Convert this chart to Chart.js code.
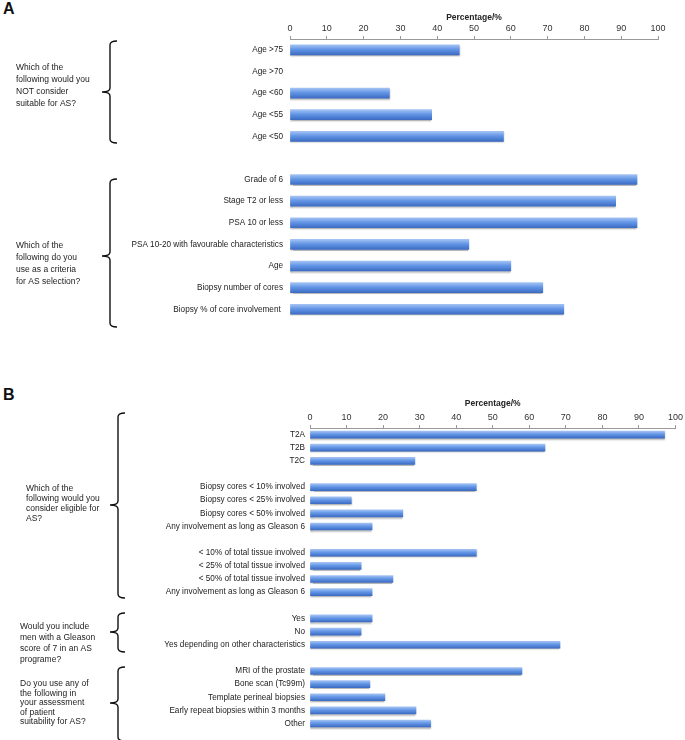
<!DOCTYPE html>
<html>
<head>
<meta charset="utf-8">
<script src="https://cdn.jsdelivr.net/npm/chart.js@4.4.1/dist/chart.umd.min.js"></script>
<style>
body { margin: 0; background: #fff; width: 685px; height: 740px; position: relative; overflow: hidden; }
.panel { position: absolute; left: 0; width: 685px; }
#wrapA { top: 0; height: 332px; }
#wrapB { top: 385px; height: 355px; }
.letter { position: absolute; left: 3px; font: bold 16px 'Liberation Sans', Arial, sans-serif; color: #111; }
</style>
</head>
<body>
<div class="letter" style="top:0px">A</div>
<div class="letter" style="top:386px">B</div>
<div id="wrapA" class="panel"><canvas id="chartA"></canvas></div>
<div id="wrapB" class="panel"><canvas id="chartB"></canvas></div>
<script>
// panel A
const notSuitableLabels = ['Age >75', 'Age >70', 'Age <60', 'Age <55', 'Age <50'];
const notSuitableValues = [46, 0, 27, 38.5, 58];
const criteriaLabels = ['Grade of 6', 'Stage T2 or less', 'PSA 10 or less', 'PSA 10-20 with favourable characteristics',
  'Age', 'Biopsy number of cores', 'Biopsy % of core involvement '];
const criteriaValues = [94.3, 88.5, 94.3, 48.6, 60, 68.7, 74.4];

// panel B
const stageLabels = ['T2A', 'T2B', 'T2C'];
const stageValues = [97, 64.3, 28.7];
const coresLabels = ['Biopsy cores < 10% involved', 'Biopsy cores < 25% involved', 'Biopsy cores < 50% involved', 'Any involvement as long as Gleason 6'];
const coresValues = [45.5, 11.3, 25.4, 17];
const tissueLabels = ['< 10% of total tissue involved', '< 25% of total tissue involved', '< 50% of total tissue involved', 'Any involvement as long as Gleason 6'];
const tissueValues = [45.5, 14, 22.7, 17];
const gleasonLabels = ['Yes', 'No', 'Yes depending on other characteristics'];
const gleasonValues = [17, 14, 68.4];
const assessLabels = ['MRI of the prostate', 'Bone scan (Tc99m)', 'Template perineal biopsies', 'Early repeat biopsies within 3 months', 'Other'];
const assessValues = [58, 16.4, 20.5, 29, 33];

const xTicks = [0, 10, 20, 30, 40, 50, 60, 70, 80, 90, 100];

const questionsA = [
  ['Which of the', 'following would you', 'NOT consider', 'suitable for AS?'],
  ['Which of the', 'following do you', 'use as a criteria', 'for AS selection?']
];
const questionsB = [
  ['Which of the', 'following would you', 'consider eligible for', 'AS?'],
  ['Would you include', 'men with a Gleason', 'score of 7 in an AS', 'programe?'],
  ['Do you use any of', 'the following in', 'your assessment', 'of patient', 'suitability for AS?']
];

// join groups with an empty slot between them
function joinGroups(groups, blank) {
  let out = [];
  groups.forEach((g, i) => {
    if (i > 0) out.push(blank);
    out = out.concat(g);
  });
  return out;
}

const labelsA = joinGroups([notSuitableLabels, criteriaLabels], '');
const valuesA = joinGroups([notSuitableValues, criteriaValues], null);
const labelsB = joinGroups([stageLabels, coresLabels, tissueLabels, gleasonLabels, assessLabels], '');
const valuesB = joinGroups([stageValues, coresValues, tissueValues, gleasonValues, assessValues], null);

const tickFont = { family: "'Liberation Sans', Arial, sans-serif", size: 8.2 };

// shaded bars like the excel original
const barShade = {
  id: 'barShade',
  beforeDatasetsDraw(chart) {
    const ctx = chart.ctx;
    chart.getDatasetMeta(0).data.forEach(bar => {
      if (Math.abs(bar.x - bar.base) < 0.5) {
        bar.options.backgroundColor = 'rgba(0,0,0,0)';   // nothing to show for 0%
        return;
      }
      const h = bar.height;
      const g = ctx.createLinearGradient(0, bar.y - h / 2, 0, bar.y + h / 2);
      g.addColorStop(0, '#a3c2f4');
      g.addColorStop(0.45, '#6396e6');
      g.addColorStop(1, '#3c6cc4');
      bar.options.backgroundColor = g;
    });
    ctx.save();
    ctx.shadowColor = 'rgba(0,0,0,0.28)';
    ctx.shadowOffsetY = 1.5;
    ctx.shadowBlur = 1.5;
  },
  afterDatasetsDraw(chart) {
    chart.ctx.restore();
  }
};

function drawBrace(ctx, x, top, bottom, tip) {
  ctx.beginPath();
  ctx.moveTo(x + 7, top);
  ctx.quadraticCurveTo(x, top, x, top + 4);
  ctx.lineTo(x, tip - 4);
  ctx.quadraticCurveTo(x, tip, x - 8, tip);
  ctx.quadraticCurveTo(x, tip, x, tip + 4);
  ctx.lineTo(x, bottom - 4);
  ctx.quadraticCurveTo(x, bottom, x + 7, bottom);
  ctx.stroke();
}

function questionPlugin(items) {
  return {
    id: 'questions',
    afterDraw(chart) {
      const ctx = chart.ctx;
      ctx.save();
      ctx.strokeStyle = '#111';
      ctx.lineWidth = 1.4;
      ctx.fillStyle = '#222';
      ctx.font = "8.5px 'Liberation Sans', Arial, sans-serif";
      ctx.textBaseline = 'middle';
      items.forEach(q => {
        q.lines.forEach((t, i) => ctx.fillText(t, q.tx, q.ty + i * q.lh));
        drawBrace(ctx, q.bx, q.top, q.bottom, q.tip);
      });
      ctx.restore();
    }
  };
}

function makeOptions(leftWidth, axisHeight, titleTop, thickness, padRight, padBottom, labelPad) {
  return {
    responsive: true,
    maintainAspectRatio: false,
    animation: false,
    indexAxis: 'y',
    layout: { padding: { left: 0, right: padRight, top: 0, bottom: padBottom } },
    plugins: { legend: { display: false }, tooltip: { enabled: false } },
    datasets: { bar: { barThickness: thickness } },
    scales: {
      x: {
        position: 'top',
        min: 0, max: 100,
        afterFit: s => { s.height = axisHeight; },
        afterBuildTicks: s => { s.ticks = xTicks.map(v => ({ value: v })); },
        ticks: { color: '#333', font: { family: "'Liberation Sans', Arial, sans-serif", size: 9 }, padding: 2, maxRotation: 0 },
        grid: { drawOnChartArea: false, drawTicks: true, tickLength: 3, color: '#999' },
        border: { color: '#999' },
        title: {
          display: true, text: 'Percentage/%', color: '#222',
          font: { family: "'Liberation Sans', Arial, sans-serif", size: 8.5, weight: 'bold' },
          padding: { top: titleTop, bottom: 0 }
        }
      },
      y: {
        afterFit: s => { s.width = leftWidth; },
        grid: { display: false, drawTicks: false },
        border: { display: false },
        ticks: { color: '#222', font: tickFont, padding: labelPad, autoSkip: false }
      }
    }
  };
}

new Chart(document.getElementById('chartA'), {
  type: 'bar',
  data: {
    labels: labelsA,
    datasets: [{ data: valuesA, backgroundColor: () => '#6396e6', borderWidth: 0 }]
  },
  options: makeOptions(290, 39, 13, 10, 27, 8, 7),
  plugins: [barShade, questionPlugin([
    { lines: questionsA[0], tx: 16, ty: 68, lh: 12, bx: 110, top: 41, bottom: 143, tip: 92 },
    { lines: questionsA[1], tx: 16, ty: 246, lh: 12, bx: 110, top: 179, bottom: 327, tip: 256 }
  ])]
});

new Chart(document.getElementById('chartB'), {
  type: 'bar',
  data: {
    labels: labelsB,
    datasets: [{ data: valuesB, backgroundColor: () => '#6396e6', borderWidth: 0 }]
  },
  options: makeOptions(310, 43, 14, 7, 8, 3, 5),
  plugins: [barShade, questionPlugin([
    { lines: questionsB[0], tx: 26, ty: 104, lh: 10, bx: 118, top: 28, bottom: 213, tip: 120 },
    { lines: questionsB[1], tx: 20, ty: 242, lh: 11, bx: 118, top: 228, bottom: 267, tip: 247 },
    { lines: questionsB[2], tx: 20, ty: 299, lh: 9.5, bx: 118, top: 282, bottom: 356, tip: 318 }
  ])]
});
</script>
</body>
</html>
